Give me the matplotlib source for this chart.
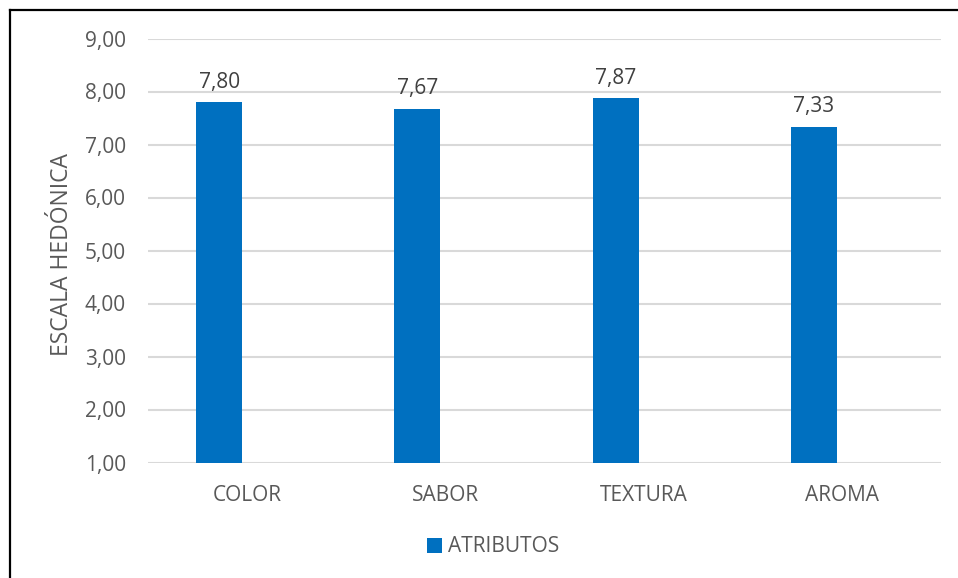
import matplotlib
matplotlib.use("Agg")

import matplotlib.pyplot as plt
from matplotlib.lines import Line2D

plt.rcParams["font.family"] = ["Open Sans", "DejaVu Sans"]

# ── data ────────────────────────────────────────────────────────────────
categories = ["COLOR", "SABOR", "TEXTURA", "AROMA"]
scores = [7.80, 7.67, 7.87, 7.33]
y_ticks = [1, 2, 3, 4, 5, 6, 7, 8, 9]
series_name = "ATRIBUTOS"
y_label = "ESCALA HEDÓNICA"

BAR = "#0070C0"
GRID = "#D9D9D9"
TXT = "#595959"
LBL = "#404040"

W, H = 958, 578
fig = plt.figure(figsize=(W / 100, H / 100), dpi=100, facecolor="white")

# plot area in pixel coords (left, top, right, bottom)
px_l, px_t, px_r, px_b = 148, 38.5, 941, 462.5
ax = fig.add_axes([px_l / W, 1 - px_b / H, (px_r - px_l) / W, (px_b - px_t) / H])

x = list(range(len(categories)))
offset, width = -0.141, 0.232
bars = ax.bar([i + offset for i in x], [s - 1 for s in scores], width,
              bottom=1, color=BAR, zorder=3, label=series_name)

for i, s in zip(x, scores):
    ax.annotate(f"{s:.2f}".replace(".", ","), xy=(i + offset, s),
                xytext=(0, 10.5), textcoords="offset points",
                ha="center", va="baseline", fontsize=15, color=LBL)

ax.set_xlim(-0.5, len(categories) - 0.5)
ax.set_ylim(1, 9)
ax.set_yticks(y_ticks)
ax.set_yticklabels([f"{v:.2f}".replace(".", ",") for v in y_ticks])
ax.set_xticks(x)
ax.set_xticklabels(categories)
ax.tick_params(axis="both", length=0, labelsize=15, labelcolor=TXT)
ax.tick_params(axis="y", pad=16)
ax.tick_params(axis="x", pad=16)
ax.grid(axis="y", color=GRID, lw=1.5, zorder=0)
for sp in ax.spines.values():
    sp.set_visible(False)

fig.text(62 / W, 1 - 255 / H, y_label, rotation=90, ha="center",
         va="center", fontsize=16.5, color=TXT)

fig.legend(handles=[bars], labels=[series_name], loc="center",
           bbox_to_anchor=(493 / W, 1 - 547 / H), frameon=False,
           fontsize=15, labelcolor=TXT, handlelength=0.7, handleheight=0.7,
           handletextpad=0.3)

# chart frame (left and top edges)
fig.add_artist(Line2D([9.5 / W, 9.5 / W], [0, 1 - 9.5 / H],
                      transform=fig.transFigure, color="black", lw=1.6))
fig.add_artist(Line2D([9.5 / W, 1], [1 - 9.5 / H, 1 - 9.5 / H],
                      transform=fig.transFigure, color="black", lw=1.6))

fig.savefig("out.png", dpi=100, facecolor="white")
